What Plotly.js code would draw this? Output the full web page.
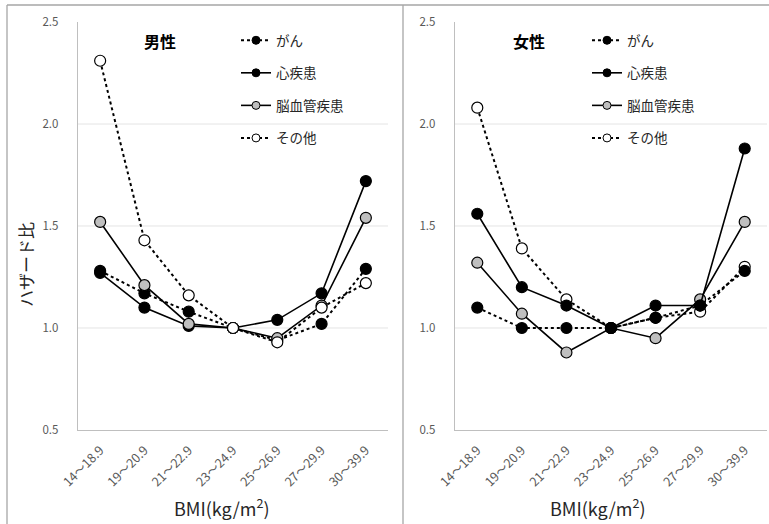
<!DOCTYPE html>
<html>
<head>
<meta charset="utf-8">
<script src="https://cdn.plot.ly/plotly-3.0.1.min.js"></script>
<style>html,body{margin:0;padding:0;background:#fff;}#chart{width:769px;height:524px;}</style>
</head>
<body>
<div id="chart"></div>
<script>
// ---- data ----
const categories = ["14～18.9","19～20.9","21～22.9","23～24.9","25～26.9","27～29.9","30～39.9"];
const seriesNames = ["がん","心疾患","脳血管疾患","その他"];

const maleCancer   = [1.28, 1.17, 1.08, 1.00, 0.94, 1.02, 1.29];
const maleHeart    = [1.27, 1.10, 1.01, 1.00, 1.04, 1.17, 1.72];
const maleStroke   = [1.52, 1.21, 1.02, 1.00, 0.95, 1.11, 1.54];
const maleOther    = [2.31, 1.43, 1.16, 1.00, 0.93, 1.10, 1.22];

const femaleCancer = [1.10, 1.00, 1.00, 1.00, 1.05, 1.11, 1.28];
const femaleHeart  = [1.56, 1.20, 1.11, 1.00, 1.11, 1.11, 1.88];
const femaleStroke = [1.32, 1.07, 0.88, 1.00, 0.95, 1.14, 1.52];
const femaleOther  = [2.08, 1.39, 1.14, 1.00, 1.05, 1.08, 1.30];

const panelTitles = ["男性","女性"];
const yTickVals = [0.5, 1.0, 1.5, 2.0, 2.5];
const gridVals = [1.0, 1.5, 2.0];

// ---- styles ----
const FONT = '"Noto Sans CJK JP", "Noto Sans", sans-serif';
const styles = [
  {dash:'dot',   width:2,   fill:'#000000'},
  {dash:'solid', width:1.6, fill:'#000000'},
  {dash:'solid', width:1.6, fill:'#bfbfbf'},
  {dash:'dot',   width:2,   fill:'#ffffff'}
];

function makeTraces(vals, xa, ya, order) {
  return order.map(i => ({
    type:'scatter', mode:'lines+markers',
    x: categories, y: vals[i], xaxis: xa, yaxis: ya,
    name: seriesNames[i], showlegend:false,
    line:{color:'#000000', width:styles[i].width, dash:styles[i].dash},
    marker:{size:11, color:styles[i].fill, line:{color:'#000000', width:1.2}},
    hoverinfo:'skip'
  }));
}
function legendTraces(legendId, xa, ya) {
  return seriesNames.map((nm, i) => ({
    type:'scatter', mode:'lines+markers', x:[null], y:[null], xaxis:xa, yaxis:ya,
    name:nm, legend:legendId, legendgroup:legendId + '_' + i, showlegend:true,
    line:{color:'#000000', width:styles[i].width, dash:styles[i].dash},
    marker:{size:8, color:styles[i].fill, line:{color:'#000000', width:1}},
    hoverinfo:'skip'
  }));
}

const traces = [
  ...makeTraces([maleCancer, maleHeart, maleStroke, maleOther], 'x', 'y', [0,1,2,3]),
  ...makeTraces([femaleCancer, femaleHeart, femaleStroke, femaleOther], 'x2', 'y2', [3,2,1,0]),
  ...legendTraces('legend', 'x', 'y'),
  ...legendTraces('legend2', 'x2', 'y2')
];

const xaxisBase = {
  type:'category', categoryorder:'array', categoryarray: categories,
  range:[-0.5, 6.5], showgrid:false, zeroline:false,
  showline:true, linecolor:'#bfbfbf', linewidth:1.3,
  ticks:'', tickangle:-45, ticklabelstandoff:7,
  tickfont:{family:FONT, size:12.5, color:'#595959'}, fixedrange:true
};
const yaxisBase = {
  range:[0.5, 2.5], tickvals:yTickVals, tickformat:'.1f',
  showgrid:false, zeroline:false,
  showline:true, linecolor:'#bfbfbf', linewidth:1.3,
  ticks:'', ticklabelstandoff:16,
  tickfont:{family:FONT, size:11.5, color:'#595959'}, fixedrange:true,
  domain:[0.1794, 0.958]
};

const shapes = [];
['y','y2'].forEach((ya, k) => {
  const xa = k === 0 ? 'x' : 'x2';
  gridVals.forEach(v => shapes.push({
    type:'line', xref: xa + ' domain', yref: ya, x0:0, x1:1, y0:v, y1:v,
    line:{color:'#e4e4e4', width:1}, layer:'below'
  }));
});
// panel frames
shapes.push({type:'line', xref:'paper', yref:'paper', x0:7/769, x1:1, y0:1-5/524, y1:1-5/524, line:{color:'#a6a6a6', width:1.3}});
shapes.push({type:'line', xref:'paper', yref:'paper', x0:7/769, x1:7/769, y0:0, y1:1-5/524, line:{color:'#a6a6a6', width:1.3}});
shapes.push({type:'line', xref:'paper', yref:'paper', x0:403/769, x1:403/769, y0:0, y1:1-5/524, line:{color:'#a6a6a6', width:1.3}});

const legendBase = {
  orientation:'v', xanchor:'left', yanchor:'top',
  font:{family:FONT, size:13.5, color:'#262626'},
  bgcolor:'rgba(0,0,0,0)', borderwidth:0,
  tracegroupgap:12, itemclick:false, itemdoubleclick:false,
  traceorder:'grouped'
};

const layout = {
  width:769, height:524,
  margin:{l:0, r:0, t:0, b:0},
  paper_bgcolor:'#ffffff', plot_bgcolor:'#ffffff',
  font:{family:FONT},
  showlegend:true,
  xaxis:Object.assign({}, xaxisBase, {domain:[78/769, 388/769], anchor:'y'}),
  yaxis:Object.assign({}, yaxisBase, {anchor:'x'}),
  xaxis2:Object.assign({}, xaxisBase, {domain:[455/769, 767/769], anchor:'y2'}),
  yaxis2:Object.assign({}, yaxisBase, {anchor:'x2'}),
  legend:Object.assign({}, legendBase, {x:236/769, y:1-25/524}),
  legend2:Object.assign({}, legendBase, {x:587/769, y:1-25/524}),
  shapes: shapes,
  annotations:[
    {text:panelTitles[0], xref:'paper', yref:'paper', x:160/769, y:1-41/524, showarrow:false,
     xanchor:'center', yanchor:'middle', font:{family:FONT, size:16, color:'#000000', weight:'bold'}},
    {text:panelTitles[1], xref:'paper', yref:'paper', x:529/769, y:1-41/524, showarrow:false,
     xanchor:'center', yanchor:'middle', font:{family:FONT, size:16, color:'#000000', weight:'bold'}},
    {text:'ハザード比', xref:'paper', yref:'paper', x:25/769, y:1-265/524, showarrow:false, textangle:-90,
     xanchor:'center', yanchor:'middle', font:{family:FONT, size:17, color:'#262626'}},
    {text:'BMI(kg/m<sup>2</sup>)', xref:'paper', yref:'paper', x:221/769, y:1-507/524, showarrow:false,
     xanchor:'center', yanchor:'middle', font:{family:FONT, size:18, color:'#262626'}},
    {text:'BMI(kg/m<sup>2</sup>)', xref:'paper', yref:'paper', x:597/769, y:1-507/524, showarrow:false,
     xanchor:'center', yanchor:'middle', font:{family:FONT, size:18, color:'#262626'}}
  ]
};

Plotly.newPlot('chart', traces, layout, {staticPlot:true, displayModeBar:false});
</script>
</body>
</html>
